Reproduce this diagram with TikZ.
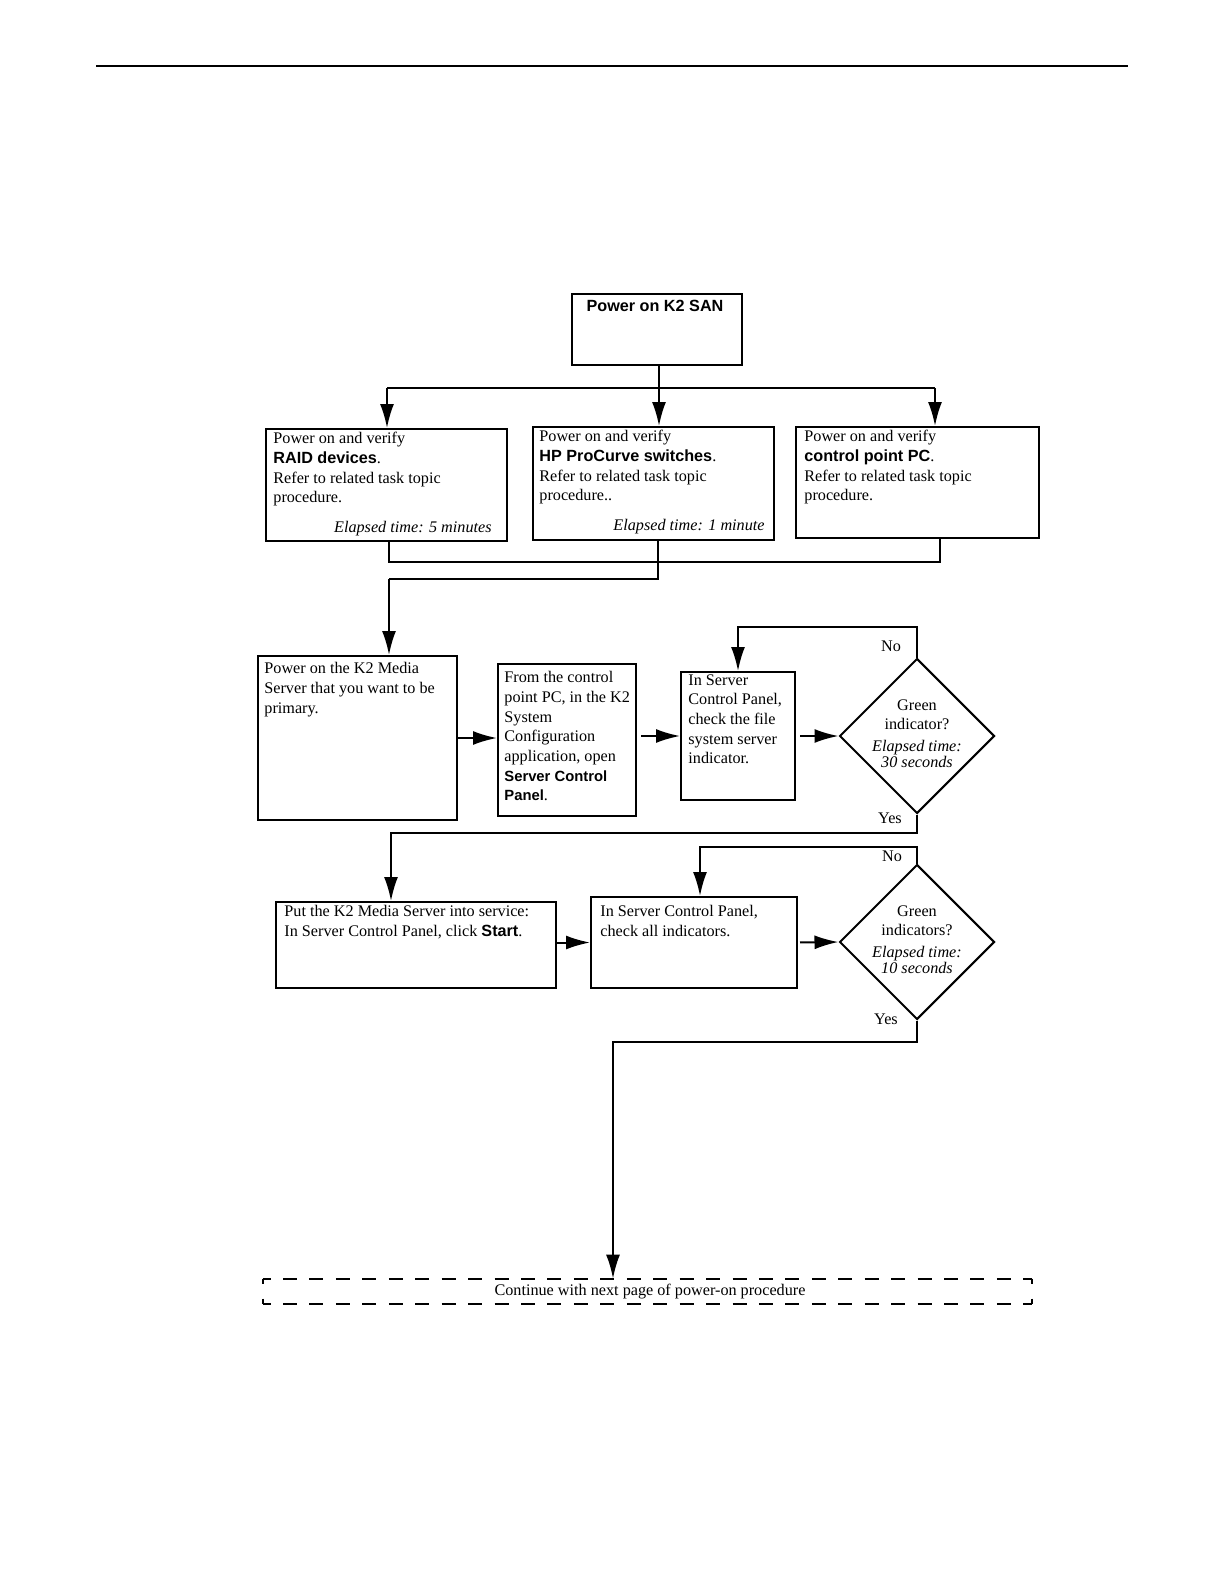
\documentclass[tikz,border=0pt]{standalone}
\usepackage{fontspec}
\setmainfont{Liberation Serif}
\setsansfont{Liberation Sans}
\usetikzlibrary{arrows.meta,shapes.geometric}

\newcommand{\bsf}[1]{\textsf{\bfseries #1}}
\newcommand{\bsfs}[1]{{\fontsize{7.4}{9.85}\sffamily\bfseries #1}}
\newcommand{\txtsize}{\fontsize{8.1}{9.85}\selectfont}

\tikzset{
  box/.style={draw, line width=1pt, anchor=north west, inner sep=0pt},
  decision/.style={shape=diamond, draw, line width=1pt, inner sep=0pt, aspect=1,
    minimum width=77.5pt, minimum height=77.5pt},
  txt/.style={anchor=north west, align=left, inner sep=0pt},
  elapsed/.style={anchor=base east, inner sep=0pt, font=\txtsize\itshape},
  wire/.style={line width=1pt},
  arr/.style={line width=1pt, -{Latex[length=12pt,width=7pt]}},
  dashtop/.style={line width=1pt, dash pattern=on 7pt off 6.22pt, dash phase=3pt},
  dashside/.style={line width=1pt, dash pattern=on 2.5pt off 7.5pt},
}

\begin{document}
\begin{tikzpicture}[x=0.5pt,y=-0.5pt,line join=miter,every node/.append style={font=\txtsize}]
\useasboundingbox (0,0) rectangle (1224,1584);

% header rule
\draw[line width=0.6pt] (96,66) -- (1128,66);

% boxes
\node[box, minimum width=85pt,    minimum height=35.5pt] (top)   at (571,293) {};
\node[box, minimum width=120.5pt, minimum height=56pt]   (raid)  at (265,428) {};
\node[box, minimum width=120.5pt, minimum height=56.5pt] (hp)    at (532,426) {};
\node[box, minimum width=121.5pt, minimum height=55.5pt] (pc)    at (795,426) {};
\node[box, minimum width=99.5pt,  minimum height=82pt]   (media) at (257,655) {};
\node[box, minimum width=69pt,    minimum height=76pt]   (scp)   at (497,663) {};
\node[box, minimum width=57pt,    minimum height=64pt]   (fsi)   at (680,671) {};
\node[box, minimum width=140pt,   minimum height=43pt]   (start) at (275,901) {};
\node[box, minimum width=103pt,   minimum height=45.5pt] (chk)   at (590,896) {};
\node[decision] (dia1) at (917,736) {};
\node[decision] (dia2) at (917,942) {};

% dashed end box
\node[inner sep=0pt, minimum width=384.5pt, minimum height=12.5pt] (next) at (647.5,1291.5)
      {\hspace*{2.5pt}Continue with next page of power-on procedure};
\draw[dashtop]  (next.north west) -- (next.north east);
\draw[dashtop]  (next.south west) -- (next.south east);
\draw[dashside] (next.north west) -- (next.south west);
\draw[dashside] (next.north east) -- (next.south east);

% texts
\node[anchor=center, inner sep=0pt, font=\fontsize{8.1}{9.85}\sffamily\bfseries]
  (ttl) at ([xshift=-1pt,yshift=-6.5pt]top.north) {Power on K2 SAN};

\node[txt] (raidtxt) at ([xshift=4pt,yshift=-2pt]raid.north west)
  {Power on and verify\\ \bsf{RAID devices}.\\ Refer to related task topic\\ procedure.};
\node[elapsed] (raidtime) at ([xshift=-8pt,yshift=5pt]raid.south east) {Elapsed time: 5 minutes};

\node[txt] (hptxt) at ([xshift=3.5pt,yshift=-2pt]hp.north west)
  {Power on and verify\\ \bsf{HP ProCurve switches}.\\ Refer to related task topic\\ procedure..};
\node[elapsed] (hptime) at ([xshift=-5pt,yshift=5.5pt]hp.south east) {Elapsed time: 1 minute};

\node[txt] (pctxt) at ([xshift=4.5pt,yshift=-2pt]pc.north west)
  {Power on and verify\\ \bsf{control point PC}.\\ Refer to related task topic\\ procedure.};

\node[txt] (mediatxt) at ([xshift=3.5pt,yshift=-3.5pt]media.north west)
  {Power on the K2 Media\\ Server that you want to be\\ primary.};

\node[txt] (scptxt) at ([xshift=3.5pt,yshift=-4pt]scp.north west)
  {From the control\\ point PC, in the K2\\ System\\ Configuration\\ application, open\\
   \bsfs{Server Control}\\ \bsfs{Panel}.};

\node[txt] (fsitxt) at ([xshift=4pt,yshift=-1.5pt]fsi.north west)
  {In Server\\ Control Panel,\\ check the file\\ system server\\ indicator.};

\node[align=center, inner sep=0pt] (dia1txt) at ([yshift=1.25pt]dia1.center)
  {Green\\ indicator?\\[0.8pt] \textit{Elapsed time:}\\[-1.8pt] \textit{30 seconds}};

\node[txt] (starttxt) at ([xshift=4.5pt,yshift=-2pt]start.north west)
  {Put the K2 Media Server into service:\\ In Server Control Panel, click \bsf{Start}.};

\node[txt] (chktxt) at ([xshift=5pt,yshift=-4.5pt]chk.north west)
  {In Server Control Panel,\\ check all indicators.};

\node[align=center, inner sep=0pt] (dia2txt) at ([yshift=1.25pt]dia2.center)
  {Green\\ indicators?\\[0.8pt] \textit{Elapsed time:}\\[-1.8pt] \textit{10 seconds}};

% yes / no labels
\node[inner sep=0pt] (no1)  at (891,646)  {No};
\node[inner sep=0pt] (yes1) at (890,818)  {Yes};
\node[inner sep=0pt] (no2)  at (892,856)  {No};
\node[inner sep=0pt] (yes2) at (886,1019) {Yes};

% fan out
\coordinate (fanL) at (387,388);
\coordinate (fanM) at (659,388);
\coordinate (fanR) at (935,388);
\draw[wire] (fanM |- top.south) -- (fanM);
\draw[wire] (fanL) -- (fanR);
\draw[arr] (fanL) -- (fanL |- raid.north);
\draw[arr] (fanM) -- (fanM |- hp.north);
\draw[arr] (fanR) -- (fanR |- pc.north);

% merge
\coordinate (mrgL) at (389,562);
\coordinate (mrgR) at (940,562);
\coordinate (mrgM) at (658,579);
\draw[wire] (mrgL |- raid.south) -- (mrgL) -- (mrgR) -- (mrgR |- pc.south);
\draw[wire] (mrgM |- hp.south) -- (mrgM) -- (mrgL |- mrgM);
\draw[arr] (mrgL |- mrgM) -- (mrgL |- media.north);

% row 1
\draw[arr] (media.east) -- (media.east -| scp.west);
\draw[arr, shorten <=2pt] (fsi.west -| scp.east) -- (fsi.west);
\draw[arr, shorten <=2pt] (dia1.west -| fsi.east) -- (dia1.west);
\coordinate (noA) at (917,627);
\draw[arr] (dia1.north) -- (noA) -| (fsi.north);
\coordinate (yesA) at (391,833);
\draw[arr] (dia1.south) |- (yesA) -- (yesA |- start.north);

% row 2
\draw[arr] (start.east |- chk.west) -- (chk.west);
\draw[arr, shorten <=1pt] (chk.east) -- (dia2.west);
\coordinate (noB) at (917,847);
\draw[arr] (dia2.north) -- (noB) -| ([xshift=3pt]chk.north);
\coordinate (yesB) at (613,1042);
\draw[arr] (dia2.south) |- (yesB) -- (yesB |- next.north);

\end{tikzpicture}
\end{document}
